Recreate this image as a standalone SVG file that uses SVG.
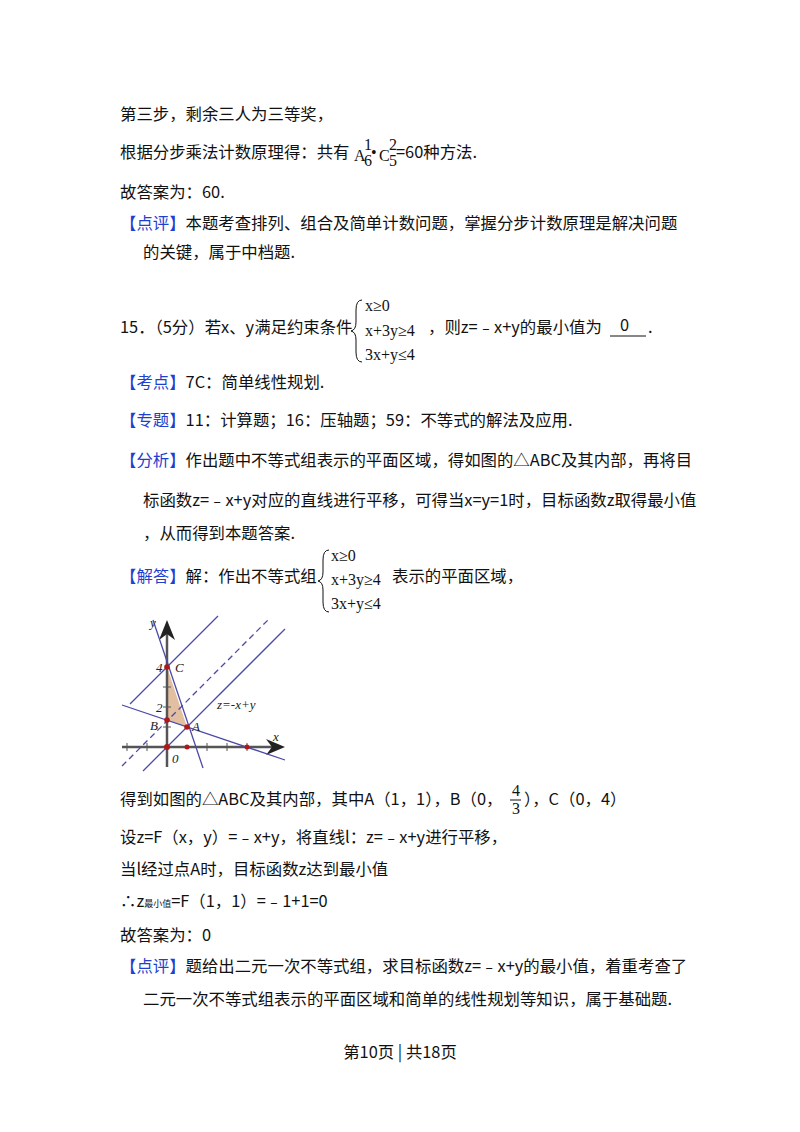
<svg xmlns="http://www.w3.org/2000/svg" width="800" height="1132" viewBox="0 0 800 1132">
<style>
.t{font-family:"Noto Sans CJK SC","Liberation Sans",sans-serif;font-size:16.4px;fill:#111}
.b{fill:#1f3fd0}
.m{font-family:"Liberation Serif",serif;font-size:16px;fill:#111}
.g{font-family:"Liberation Serif",serif;font-size:13px;font-style:italic;fill:#222}
.ln{stroke:#4a4aa8;stroke-width:1.3;fill:none}
.pt{fill:#b01818}
</style>
<rect width="800" height="1132" fill="#fff"/>
<text class="t" x="120" y="120">第三步，剩余三人为三等奖，</text>
<text class="t" x="120" y="158">根据分步乘法计数原理得：共有</text>
<text class="m" x="354" y="161" font-size="12">A</text><text class="m" x="364" y="150" font-size="9">1</text><text class="m" x="364" y="166" font-size="9">6</text>
<text class="m" x="371" y="158">•</text>
<text class="m" x="379" y="161" font-size="12">C</text><text class="m" x="389" y="150" font-size="9">2</text><text class="m" x="389" y="166" font-size="9">5</text>
<text class="t" x="396" y="158">=60种方法.</text>
<text class="t" x="120" y="198">故答案为：60.</text>
<text class="t" x="120" y="229"><tspan class="b">【点评】</tspan>本题考查排列、组合及简单计数问题，掌握分步计数原理是解决问题</text>
<text class="t" x="143" y="258">的关键，属于中档题.</text>
<text class="t" x="120" y="333">15．（5分）若x、y满足约束条件</text>
<path d="M362 300 Q356 300 356 310 L356 322 Q356 330 351 331 Q356 332 356 340 L356 352 Q356 362 362 362" fill="none" stroke="#111"/>
<text class="m" x="365" y="311">x≥0</text>
<text class="m" x="365" y="336">x+3y≥4</text>
<text class="m" x="365" y="360">3x+y≤4</text>
<text class="t" x="428" y="333">，则z=﹣x+y的最小值为</text>
<text class="t" x="620" y="331">0</text>
<line x1="610" y1="336" x2="646" y2="336" stroke="#111"/>
<text class="t" x="648" y="333">.</text>
<text class="t" x="120" y="388"><tspan class="b">【考点】</tspan>7C：简单线性规划.</text>
<text class="t" x="120" y="426"><tspan class="b">【专题】</tspan>11：计算题；16：压轴题；59：不等式的解法及应用.</text>
<text class="t" x="120" y="466"><tspan class="b">【分析】</tspan>作出题中不等式组表示的平面区域，得如图的△ABC及其内部，再将目</text>
<text class="t" x="143" y="506">标函数z=﹣x+y对应的直线进行平移，可得当x=y=1时，目标函数z取得最小值</text>
<text class="t" x="143" y="539">，从而得到本题答案.</text>
<text class="t" x="120" y="582"><tspan class="b">【解答】</tspan>解：作出不等式组</text>
<path d="M329 550 Q323 550 323 560 L323 572 Q323 580 318 581 Q323 582 323 590 L323 602 Q323 612 329 612" fill="none" stroke="#111"/>
<text class="m" x="331" y="561">x≥0</text>
<text class="m" x="331" y="585">x+3y≥4</text>
<text class="m" x="331" y="609">3x+y≤4</text>
<text class="t" x="392" y="582">表示的平面区域，</text>
<g id="graph">
<polygon points="187,727 167,720.3 167,667" fill="#e2bfa0"/>
<line x1="122" y1="747" x2="280" y2="747" stroke="#555" stroke-width="2.5"/>
<path d="M285 747 L266 739 L272 747 L266 755 Z" fill="#222"/>
<line x1="167" y1="767" x2="167" y2="625" stroke="#555" stroke-width="2.5"/>
<path d="M167 620 L159 640 L167 634 L175 640 Z" fill="#222"/>
<g stroke="#555" stroke-width="1"><line x1="127" y1="743" x2="127" y2="751"/><line x1="147" y1="743" x2="147" y2="751"/><line x1="207" y1="743" x2="207" y2="751"/><line x1="227" y1="743" x2="227" y2="751"/><line x1="247" y1="743" x2="247" y2="751"/><line x1="163" y1="707" x2="171" y2="707"/><line x1="163" y1="687" x2="171" y2="687"/><line x1="163" y1="727" x2="171" y2="727"/></g>
<line class="ln" x1="153" y1="620" x2="203" y2="768"/>
<line class="ln" x1="122" y1="705" x2="285" y2="760"/>
<line class="ln" x1="130" y1="704" x2="218" y2="616"/>
<line class="ln" x1="122" y1="766" x2="268" y2="620" stroke-dasharray="6,4"/>
<line class="ln" x1="143" y1="771" x2="285" y2="629"/>
<circle class="pt" cx="167" cy="667" r="2.8"/><circle class="pt" cx="167" cy="720" r="2.8"/><circle class="pt" cx="187" cy="727" r="2.8"/>
<circle class="pt" cx="167" cy="747" r="3"/><circle class="pt" cx="187" cy="747" r="2.5"/><circle class="pt" cx="247" cy="747" r="2.5"/>
<text class="g" x="150" y="627">y</text>
<text class="g" x="156" y="672" font-style="normal">4</text>
<text class="g" x="175" y="672">C</text>
<text class="g" x="156" y="712" font-style="normal">2</text>
<text class="g" x="150" y="730">B</text>
<text class="g" x="192" y="731">A</text>
<text class="g" x="172" y="763" font-style="normal">0</text>
<text class="g" x="273" y="741">x</text>
<text class="g" x="217" y="709">z=-x+y</text>
</g>
<text class="t" x="120" y="805">得到如图的△ABC及其内部，其中A（1，1），B（0，</text>
<text class="m" x="512" y="796" font-size="13">4</text><line x1="510" y1="800" x2="521" y2="800" stroke="#111"/><text class="m" x="512" y="814" font-size="13">3</text>
<text class="t" x="524" y="805">），C（0，4）</text>
<text class="t" x="120" y="843">设z=F（x，y）=﹣x+y，将直线l：z=﹣x+y进行平移，</text>
<text class="t" x="120" y="875">当l经过点A时，目标函数z达到最小值</text>
<text class="t" x="120" y="907">∴z<tspan font-size="9">最小值</tspan>=F（1，1）=﹣1+1=0</text>
<text class="t" x="120" y="941">故答案为：0</text>
<text class="t" x="120" y="972"><tspan class="b">【点评】</tspan>题给出二元一次不等式组，求目标函数z=﹣x+y的最小值，着重考查了</text>
<text class="t" x="143" y="1005">二元一次不等式组表示的平面区域和简单的线性规划等知识，属于基础题.</text>
<text class="t" x="400" y="1058" text-anchor="middle" font-size="13">第10页 | 共18页</text>
</svg>
